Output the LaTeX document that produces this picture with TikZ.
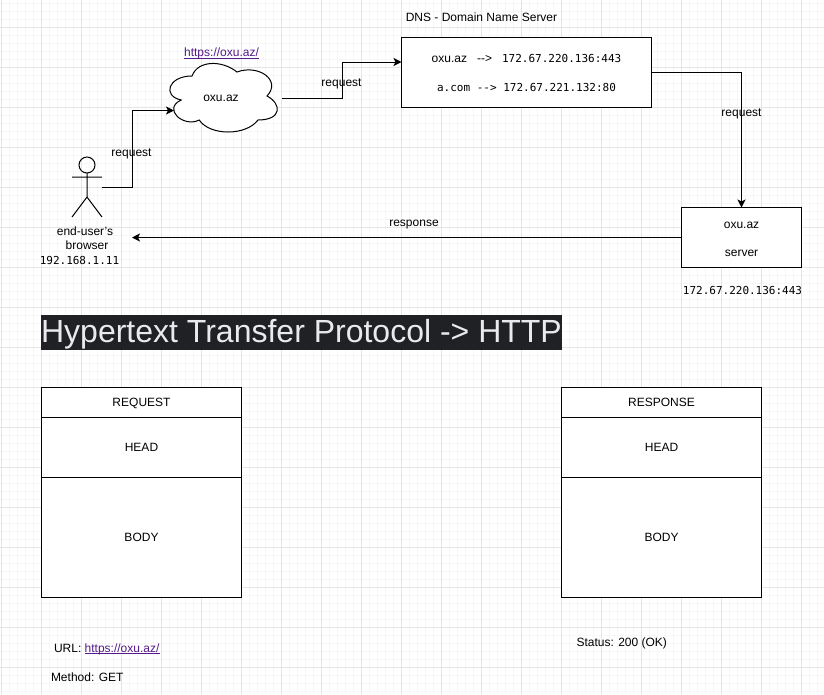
\documentclass[tikz,border=0pt]{standalone}
\usepackage{fontspec}
\setmainfont{Liberation Sans}
\setmonofont{DejaVu Sans Mono}
\usetikzlibrary{arrows.meta}
\definecolor{linkpurple}{HTML}{551A8B}
\definecolor{titlebg}{HTML}{1F2125}
\definecolor{titletxt}{HTML}{E8EAED}
\newcommand{\urltext}{\textcolor{linkpurple}{\rlap{\rule[-1.3pt]{56.25pt}{0.5pt}}https://oxu.az/}}

\begin{document}
\begin{tikzpicture}[
  x=0.75pt, y=-0.75pt,
  >={Stealth[length=6pt,width=6pt,inset=1.5pt]},
  every node/.style={font=\fontsize{9}{10.5}\selectfont, inner sep=0pt, outer sep=0pt},
  box/.style={draw, fill=white, line width=0.8pt, align=center, text width=#1},
  box/.default=150pt,
  spaced/.style={font=\fontsize{9}{21}\selectfont},
  monotxt/.style={font=\fontsize{8.25}{10.5}\selectfont\ttfamily},
  arr/.style={->, line width=0.75pt},
  minorgrid/.style={line width=0.5pt, black!3},
  majorgrid/.style={line width=0.7pt, black!10},
  figure/.style={line width=0.75pt},
]
\useasboundingbox (0,0) rectangle (824,694);
\fill[white] (0,0) rectangle (824,694);

% === Grid ===
\foreach \gx in {1.5,9.5,...,824} {\draw[minorgrid] (\gx,0) -- (\gx,694);}
\foreach \gy in {3.5,11.5,...,694} {\draw[minorgrid] (0,\gy) -- (824,\gy);}
\foreach \gx in {1.5,41.5,...,824} {\draw[majorgrid] (\gx,0) -- (\gx,694);}
\foreach \gy in {27.5,67.5,...,694} {\draw[majorgrid] (0,\gy) -- (824,\gy);}

% === Top: request path ===
\node (dnstitle) at (481.5,17.5) {DNS - Domain Name Server};
\node (cloudlink) at (221.5,53.5) {\urltext};

\draw[figure, fill=white] (192,76) .. controls (168,76) and (162,96) .. (181.2,100)
  .. controls (162,108.8) and (183.6,128) .. (199.2,120)
  .. controls (210,136) and (246,136) .. (258,120)
  .. controls (282,120) and (282,104) .. (267,96)
  .. controls (282,80) and (258,64) .. (237,72)
  .. controls (222,60) and (198,60) .. (192,76) -- cycle;
\node[minimum width=91.5pt, minimum height=60pt] (cloud) at (221,98) {oxu.az};
\coordinate (cloudin) at (174,110.5);

\node[box=187.5pt, minimum height=52pt, font=\fontsize{9}{21.75}\selectfont] (dns) at (526.5,72.5)
  {oxu.az\hspace{7.5pt}-{}->\hspace{7.5pt}{\fontsize{8.25}{10}\selectfont\ttfamily 172.67.220.136:443}\hspace*{1.5pt}\\
   {\fontsize{8.25}{10}\selectfont\ttfamily a.com\hspace{4.97pt}-{}->\hspace{4.97pt}172.67.221.132:80}};
\coordinate (dnsin) at (401.5,62);

\node[box=90pt, minimum height=45pt, spaced] (server) at (741.5,237.5) {\rule{0pt}{8.2pt}oxu.az\\server};
\node[monotxt] (serverip) at (742.5,290) {172.67.220.136:443};

% Actor
\node[minimum width=22.5pt, minimum height=45pt] (actor) at (87,187) {};
\draw[figure] (87,165) circle (8);
\draw[figure] (87,173) -- (87,197) (72,177) -- (102,177)
  (72,217) -- (87,197) -- (102,217);
\node[align=center] (actorname) at (85,238) {end-user's\\\hspace{3pt}browser};
\node[monotxt] (actorip) at (79.5,260) {192.168.1.11};
\coordinate (respend) at (132,237.5);

% Arrows
\draw[arr] (actor.east) -- ++(30,0) |- (cloudin);
\draw[arr] (cloud.east) -- ++(60,0) |- (dnsin);
\draw[arr] (dns.east) -| (server.north);
\draw[arr] (server.west) -- (respend);

\node (reqa) at (131.5,154) {request};
\node (reqb) at (341.5,84) {request};
\node (reqc) at (741.5,114) {request};
\node (resp) at (414,224.5) {response};

% === Title ===
\node[fill=titlebg, text=titletxt, font=\fontsize{24}{28}\selectfont,
  minimum width=390.75pt, text height=20.9pt, text depth=5.6pt] (httptitle) at (301.5,332.5)
  {Hypertext Transfer Protocol -> HTTP};

% === Left: request ===
\node[box, minimum height=22.5pt, text depth=0pt] (reqtop) at (141.5,402.5) {REQUEST};
\node[box, minimum height=45pt] (reqhead) at (141.5,447.5) {HEAD};
\node[box, minimum height=90pt] (reqbody) at (141.5,537.5) {BODY};

% === Right: response ===
\node[box, minimum height=22.5pt] (resptop) at (661.5,402.5) {RESPONSE};
\node[box, minimum height=45pt] (resphead) at (661.5,447.5) {HEAD};
\node[box, minimum height=90pt] (respbody) at (661.5,537.5) {BODY};

% === Notes ===
\node[anchor=west] (urlnote) at (54,649) {URL: \urltext};
\node[anchor=west] (methodnote) at (51,677) {Method: GET};
\node[anchor=west] (statusnote) at (576.5,643) {Status: 200 (OK)};

\end{tikzpicture}
\end{document}
